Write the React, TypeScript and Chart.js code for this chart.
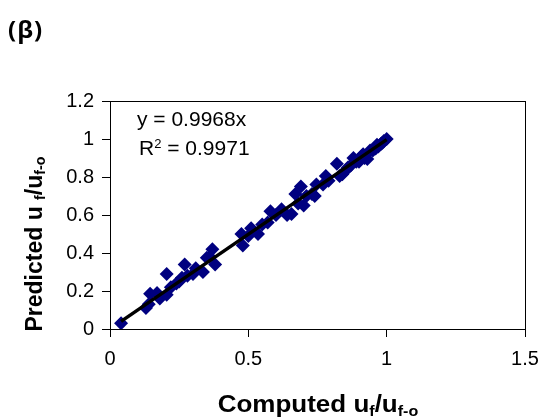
import React, { useEffect, useRef } from 'react';
import { Chart, registerables } from 'chart.js';

Chart.register(...registerables);

// Scatter data: computed vs predicted u_f/u_f-o
const computedX = [
  0.04, 0.13, 0.14, 0.145, 0.17, 0.18, 0.205, 0.205, 0.22, 0.24,
  0.25, 0.26, 0.27, 0.28, 0.30, 0.31, 0.336, 0.35, 0.36, 0.37,
  0.38, 0.475, 0.48, 0.50, 0.51, 0.535, 0.55, 0.57, 0.58, 0.60,
  0.62, 0.64, 0.656, 0.67, 0.68, 0.69, 0.70, 0.71, 0.73, 0.74,
  0.746, 0.77, 0.78, 0.79, 0.82, 0.83, 0.84, 0.855, 0.86, 0.87,
  0.88, 0.89, 0.90, 0.91, 0.915, 0.92, 0.93, 0.94, 0.95, 0.96,
  0.965, 0.97, 0.98, 0.985, 0.99, 1.0,
];
const predictedY = [
  0.03, 0.11, 0.13, 0.185, 0.19, 0.16, 0.29, 0.18, 0.22, 0.24,
  0.25, 0.27, 0.34, 0.28, 0.29, 0.32, 0.30, 0.375, 0.38, 0.42,
  0.34, 0.50, 0.44, 0.49, 0.53, 0.50, 0.55, 0.56, 0.62, 0.60,
  0.63, 0.60, 0.605, 0.71, 0.66, 0.75, 0.65, 0.70, 0.71, 0.70,
  0.76, 0.76, 0.805, 0.78, 0.87, 0.805, 0.815, 0.84, 0.85, 0.86,
  0.90, 0.88, 0.88, 0.91, 0.92, 0.90, 0.895, 0.94, 0.94, 0.95,
  0.97, 0.96, 0.975, 0.98, 0.99, 1.0,
];

// Linear trend line endpoints (y = 0.9968x)
const trendX = [0.04, 1.0];
const trendY = [0.04, 0.997];

// Axis ticks
const xTicks = [0, 0.5, 1, 1.5];
const yTicks = [0, 0.2, 0.4, 0.6, 0.8, 1, 1.2];

const panelLabel = '(β)';
const equationText = 'y = 0.9968x';
const r2Text = ' = 0.9971';

const FONT = "'Liberation Sans', Arial, Helvetica, sans-serif";

const framePlugin = {
  id: 'frameBox',
  afterDatasetsDraw(chart: any) {
    const { ctx, chartArea } = chart;
    const { left, top, right, bottom } = chartArea;
    ctx.save();
    ctx.strokeStyle = '#000';
    ctx.lineWidth = 1;
    ctx.strokeRect(Math.round(left) + 0.5, Math.round(top) + 0.5, Math.round(right - left), Math.round(bottom - top));
    ctx.restore();
  },
};

export default function App() {
  const canvasRef = useRef<HTMLCanvasElement | null>(null);

  useEffect(() => {
    if (!canvasRef.current) return;
    const points = computedX.map((x, i) => ({ x, y: predictedY[i] }));
    const trend = trendX.map((x, i) => ({ x, y: trendY[i] }));
    const chart = new Chart(canvasRef.current, {
      type: 'scatter',
      data: {
        datasets: [
          {
            type: 'line',
            label: 'Linear',
            data: trend,
            borderColor: '#000',
            borderWidth: 3.5,
            pointRadius: 0,
            fill: false,
            showLine: true,
          } as any,
          {
            label: 'Data',
            data: points,
            pointStyle: 'rectRot',
            pointRadius: 7,
            pointBackgroundColor: '#000080',
            pointBorderColor: '#000080',
            pointBorderWidth: 0,
            showLine: false,
          } as any,
        ],
      },
      options: {
        animation: false,
        responsive: false,
        events: [],
        layout: { padding: { left: 60, right: 19, top: 101, bottom: 50 } },
        plugins: {
          legend: { display: false },
          tooltip: { enabled: false },
          title: { display: false },
        },
        scales: {
          x: {
            type: 'linear',
            min: 0,
            max: 1.5,
            afterBuildTicks: (s: any) => {
              s.ticks = xTicks.map((v) => ({ value: v }));
            },
            afterFit: (s: any) => {
              s.height = 40;
              s.paddingLeft = 0;
              s.paddingRight = 0;
            },
            ticks: {
              color: '#000',
              font: { family: FONT, size: 20 },
              padding: 10,
              maxRotation: 0,
              callback: (v: any) => String(v),
            },
            grid: {
              display: true,
              drawOnChartArea: false,
              drawTicks: true,
              tickLength: 8,
              color: '#000',
            },
            border: { display: true, color: '#000', width: 1 },
          },
          y: {
            type: 'linear',
            min: 0,
            max: 1.2,
            afterBuildTicks: (s: any) => {
              s.ticks = yTicks.map((v) => ({ value: v }));
            },
            afterFit: (s: any) => {
              s.width = 50;
              s.paddingTop = 0;
              s.paddingBottom = 0;
            },
            ticks: {
              color: '#000',
              font: { family: FONT, size: 20 },
              padding: 8,
              callback: (v: any) => String(v),
            },
            grid: {
              display: true,
              drawOnChartArea: false,
              drawTicks: true,
              tickLength: 8,
              color: '#000',
            },
            border: { display: true, color: '#000', width: 1 },
          },
        },
      },
      plugins: [framePlugin],
    });
    return () => chart.destroy();
  }, []);

  const titleStyle: React.CSSProperties = {
    position: 'absolute',
    fontFamily: FONT,
    fontWeight: 'bold',
    fontSize: 23,
    color: '#000',
    whiteSpace: 'nowrap',
    lineHeight: 1,
  };
  const subStyle: React.CSSProperties = { fontSize: '0.62em', verticalAlign: '-0.25em' };

  return (
    <div style={{ position: 'absolute', left: 0, top: 0, width: 544, height: 419, background: '#fff' }}>
      <canvas ref={canvasRef} width={544} height={419} style={{ position: 'absolute', left: 0, top: 0 }} />
      <div
        style={{
          position: 'absolute',
          left: 8,
          top: 17,
          fontFamily: "'Open Sans', sans-serif",
          fontWeight: 'bold',
          fontSize: 24,
          letterSpacing: 1,
          lineHeight: 1,
          color: '#000',
        }}
      >
        {panelLabel}
      </div>
      <div
        style={{
          position: 'absolute',
          left: 137,
          top: 109,
          fontFamily: FONT,
          fontSize: 20,
          lineHeight: 1,
          color: '#000',
          whiteSpace: 'nowrap',
          transform: 'scaleX(1.05)',
          transformOrigin: 'left center',
        }}
      >
        {equationText}
      </div>
      <div
        style={{
          position: 'absolute',
          left: 139,
          top: 138,
          fontFamily: FONT,
          fontSize: 20,
          lineHeight: 1,
          color: '#000',
          whiteSpace: 'nowrap',
          transform: 'scaleX(1.05)',
          transformOrigin: 'left center',
        }}
      >
        R<span style={{ fontSize: '0.62em', verticalAlign: '0.6em' }}>2</span>
        {r2Text}
      </div>
      <div style={{ ...titleStyle, left: 318, top: 393, transform: 'translateX(-50%) scaleX(1.13)' }}>
        Computed u<span style={subStyle}>f</span>/u<span style={subStyle}>f-o</span>
      </div>
      <div
        style={{
          ...titleStyle,
          left: 35,
          top: 244,
          transform: 'translate(-50%, -50%) rotate(-90deg)',
        }}
      >
        Predicted u <span style={subStyle}>f</span>/u<span style={subStyle}>f-o</span>
      </div>
    </div>
  );
}
